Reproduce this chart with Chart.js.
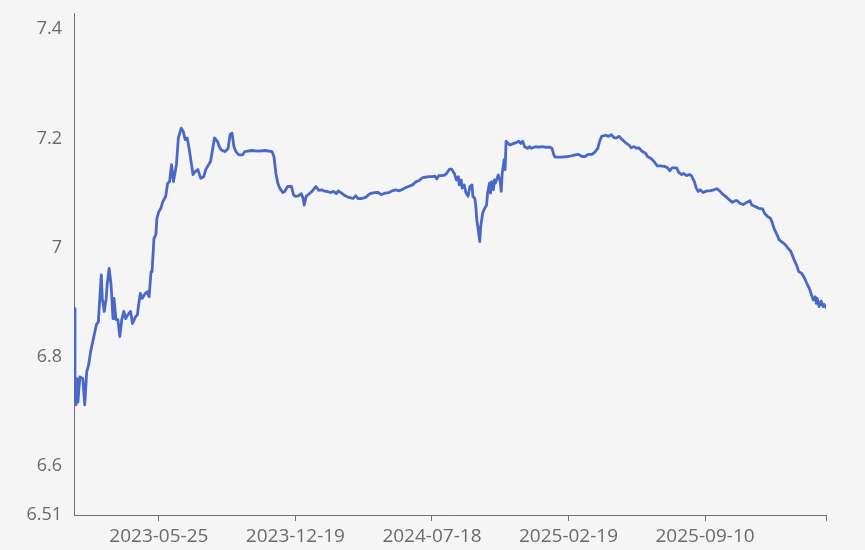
<!DOCTYPE html>
<html>
<head>
<meta charset="utf-8">
<script src="https://cdn.jsdelivr.net/npm/chart.js@4/dist/chart.umd.min.js"></script>
<style>
  html, body { margin: 0; padding: 0; background: #f5f5f5; }
  #wrap { width: 865px; height: 550px; }
</style>
</head>
<body>
<div id="wrap"><canvas id="c" width="865" height="550"></canvas></div>
<script>
// trading-day index of each sampled point (x axis position)
const dayIndex = [
  0,1,2,3,4,6,9,11,13,15,17,20,23,25,26,28,29,31,33,34,36,38,40,41,43,45,47,49,51,53,56,58,60,63,65,66,68,70,73,75,77,79,80,82,84,85,87,89,91,94,96,98,99,100,102,105,106,107,110,112,114,116,118,120,122,124,
  127,130,133,135,138,140,142,144,147,149,151,155,158,160,162,164,166,169,173,175,182,189,196,203,205,207,209,211,214,216,219,223,225,227,230,233,235,236,238,240,244,248,251,254,
  256,259,263,266,269,271,275,278,282,286,289,291,295,299,302,305,309,312,315,319,323,326,330,333,336,340,343,347,350,354,357,360,364,367,370,372,374,377,380,
  382,385,387,390,392,394,395,397,398,400,402,404,406,408,409,411,412,413,415,416,417,419,421,423,424,426,427,428,430,431,432,435,437,438,439,441,442,443,445,447,451,454,456,458,460,462,465,467,469,473,476,480,483,488,490,492,493,500,507,514,
  517,521,524,527,531,534,537,539,541,545,548,551,554,556,559,562,565,569,571,574,577,579,582,586,588,592,595,598,601,605,608,611,613,616,618,620,623,625,628,631,633,636,638,640,642,
  645,649,652,656,659,662,665,668,671,675,678,680,683,686,690,693,695,699,702,706,708,711,714,716,718,721,723,726,729,732,735,738,741,743,746,749,751,754,756,758,760,761,762,764,766,768,769,771
];
// exchange rate at each sampled point
const rate = [
  6.888,6.763,6.712,6.760,6.717,6.763,6.760,6.712,6.772,6.785,6.809,6.834,6.859,6.864,6.895,6.950,6.907,6.883,6.907,6.932,6.962,6.932,6.870,6.907,6.868,6.868,6.837,6.868,6.883,6.870,6.879,6.883,6.861,6.873,6.877,6.892,6.916,6.907,6.916,6.919,6.910,6.956,6.956,7.017,7.024,7.054,7.066,7.072,7.084,7.094,7.118,7.121,7.136,7.152,7.121,7.152,7.176,7.201,7.219,7.213,7.198,7.201,7.182,7.158,7.134,7.139,
  7.143,7.127,7.130,7.143,7.152,7.158,7.179,7.201,7.195,7.185,7.179,7.176,7.182,7.207,7.210,7.185,7.176,7.170,7.170,7.176,7.178,7.177,7.178,7.176,7.167,7.136,7.118,7.109,7.101,7.103,7.112,7.112,7.097,7.094,7.095,7.099,7.090,7.078,7.094,7.097,7.103,7.112,7.105,7.106,
  7.104,7.103,7.101,7.103,7.099,7.104,7.099,7.095,7.092,7.090,7.095,7.090,7.090,7.092,7.097,7.100,7.101,7.101,7.097,7.100,7.101,7.104,7.106,7.104,7.106,7.110,7.112,7.115,7.120,7.123,7.128,7.129,7.130,7.130,7.131,7.126,7.132,7.132,7.133,
  7.136,7.144,7.144,7.136,7.124,7.130,7.115,7.124,7.109,7.115,7.100,7.094,7.112,7.115,7.094,7.090,7.075,7.051,7.026,7.011,7.039,7.063,7.072,7.078,7.100,7.118,7.100,7.121,7.106,7.124,7.118,7.133,7.121,7.103,7.136,7.161,7.143,7.195,7.191,7.188,7.191,7.193,7.195,7.191,7.195,7.185,7.182,7.185,7.182,7.185,7.184,7.185,7.184,7.184,7.182,7.170,7.166,7.166,7.167,7.170,
  7.171,7.167,7.167,7.171,7.171,7.175,7.182,7.195,7.204,7.206,7.204,7.207,7.201,7.201,7.204,7.198,7.193,7.188,7.183,7.185,7.182,7.183,7.177,7.173,7.167,7.163,7.157,7.150,7.150,7.149,7.147,7.141,7.146,7.146,7.146,7.138,7.134,7.136,7.132,7.134,7.132,7.121,7.109,7.103,7.106,
  7.101,7.104,7.104,7.106,7.108,7.104,7.098,7.094,7.089,7.083,7.086,7.086,7.081,7.079,7.083,7.086,7.078,7.075,7.072,7.071,7.063,7.057,7.054,7.045,7.034,7.023,7.014,7.010,7.006,6.999,6.993,6.979,6.967,6.956,6.953,6.944,6.936,6.925,6.914,6.904,6.910,6.898,6.907,6.892,6.902,6.892,6.896,6.890
];
// x-axis tick positions and their labels
const xTickIndex = [87, 227, 367, 507, 647, 771];
const xTickLabels = ['2023-05-25', '2023-12-19', '2024-07-18', '2025-02-19', '2025-09-10', ''];
// y-axis ticks
const yTicks = [6.51, 6.6, 6.8, 7, 7.2, 7.4];
const yMin = 6.51, yMax = 7.43;
const xMax = 771;

const bgPlugin = {
  id: 'bg',
  beforeDraw(chart) {
    const ctx = chart.ctx;
    ctx.save();
    ctx.fillStyle = '#f5f5f5';
    ctx.fillRect(0, 0, chart.width, chart.height);
    ctx.restore();
  }
};

const axisColor = '#6e7079';
const family = "'Open Sans', 'Noto Sans', sans-serif";

new Chart(document.getElementById('c'), {
  type: 'line',
  data: {
    datasets: [{
      data: dayIndex.map((x, k) => ({ x: x, y: rate[k] })),
      borderColor: '#4a68c7',
      borderWidth: 2.8,
      pointRadius: 0,
      tension: 0,
      borderJoinStyle: 'round',
      borderCapStyle: 'round',
      fill: false
    }]
  },
  plugins: [bgPlugin],
  options: {
    responsive: false,
    devicePixelRatio: 1,
    animation: false,
    layout: { padding: { left: 0, top: 13, right: 39, bottom: 0 } },
    plugins: { legend: { display: false }, tooltip: { enabled: false } },
    scales: {
      x: {
        type: 'linear',
        min: 0,
        max: xMax,
        afterBuildTicks(s) { s.ticks = xTickIndex.map(v => ({ value: v })); },
        afterFit(s) { s.height = 35; s.paddingLeft = 0; s.paddingRight = 0; },
        ticks: {
          autoSkip: false,
          maxRotation: 0,
          padding: 4,
          color: '#6a6a6a',
          font: { family: family, size: 19 },
          callback(v) { const k = xTickIndex.indexOf(v); return k >= 0 ? xTickLabels[k] : ''; }
        },
        grid: { drawOnChartArea: false, drawTicks: true, tickLength: 6, color: axisColor, lineWidth: 1 },
        border: { display: true, color: axisColor, width: 1 }
      },
      y: {
        type: 'linear',
        min: yMin,
        max: yMax,
        afterBuildTicks(s) { s.ticks = yTicks.map(v => ({ value: v })); },
        afterFit(s) { s.width = 74; s.paddingTop = 0; s.paddingBottom = 0; },
        ticks: {
          padding: 12,
          color: '#6a6a6a',
          font: { family: family, size: 18 },
          callback(v) { return String(v); }
        },
        grid: { drawOnChartArea: false, drawTicks: false },
        border: { display: true, color: axisColor, width: 1 }
      }
    }
  }
});
</script>
</body>
</html>
